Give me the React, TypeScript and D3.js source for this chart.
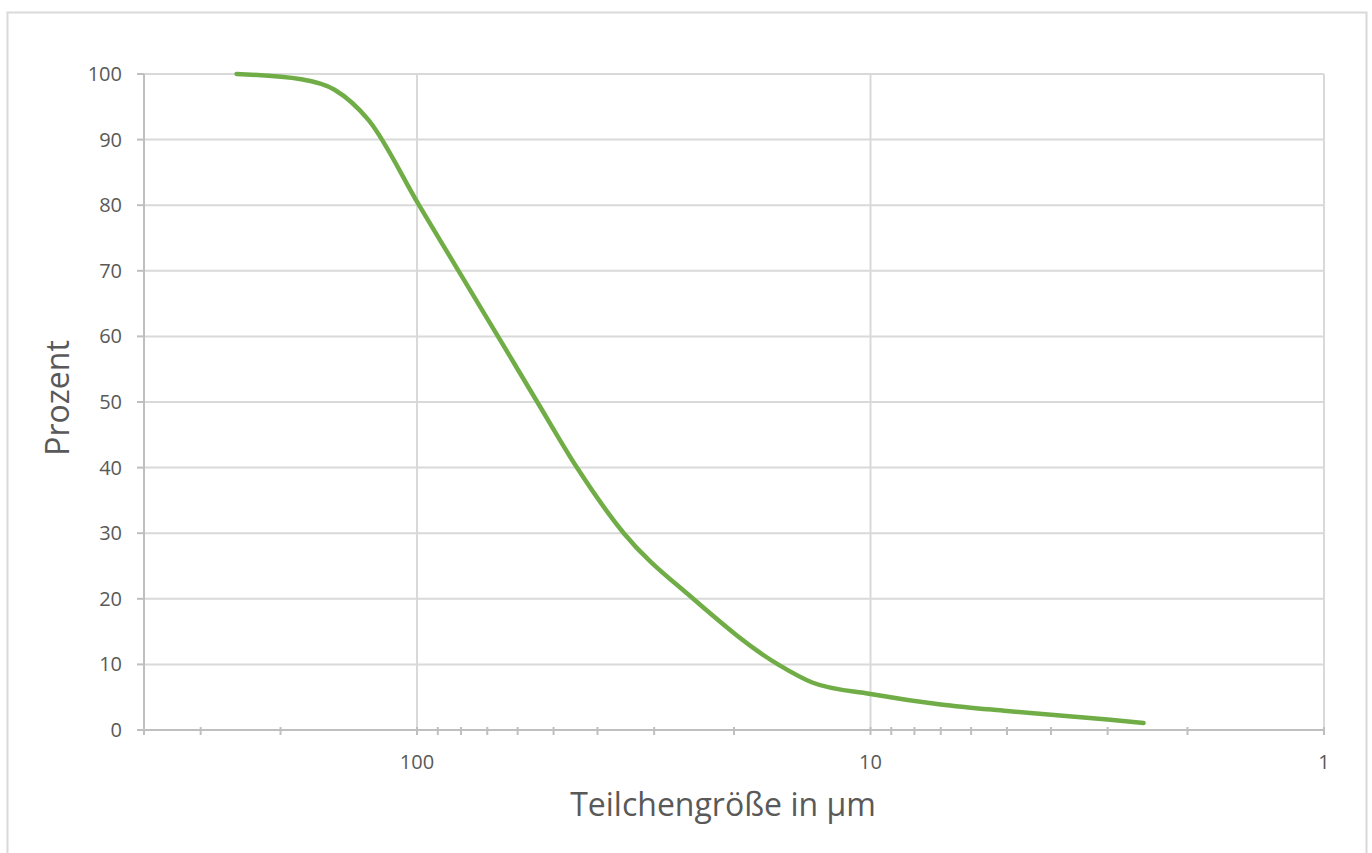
import React from "react";
import * as d3 from "d3";

const sizes = [250, 180, 152, 128, 99, 81, 66.3, 54.3, 44.4, 35, 24.6, 16, 13.4, 10, 7, 5, 3, 2.5];
const percents = [100, 99.2, 97.6, 93, 80, 70, 60, 50, 40, 30, 20, 10, 7.2, 5.5, 3.9, 2.9, 1.6, 1.07];
const yTicks = [0, 10, 20, 30, 40, 50, 60, 70, 80, 90, 100];
const xMajor = [100, 10, 1];
const xMinor = [400, 300, 200, 90, 80, 70, 60, 50, 40, 30, 20, 9, 8, 7, 6, 5, 4, 3, 2];
const xTitle = "Teilchengröße in µm";
const yTitle = "Prozent";

export default function App() {
  const W = 1372, H = 853;
  const L = 144, R = 1324, T = 74, B = 730;
  const x = d3.scaleLog().domain([400, 1]).range([L, R]);
  const y = d3.scaleLinear().domain([0, 100]).range([B, T]);
  const data = sizes.map((s, i) => [s, percents[i]] as [number, number]);
  const line = d3.line<[number, number]>().x(d => x(d[0])).y(d => y(d[1])).curve(d3.curveMonotoneX);
  const font = "'Open Sans', sans-serif";
  const grid = "#d9d9d9";
  const axis = "#bfbfbf";
  const txt = "#595959";
  return (
    <svg width={W} height={H} style={{ position: "absolute", left: 0, top: 0 }} fontFamily={font}>
      <rect x={0} y={0} width={W} height={H} fill="#fff" />
      <rect x={7.5} y={12.5} width={1359} height={900} fill="#fff" stroke={grid} strokeWidth={2} />
      {yTicks.filter(t => t > 0).map(t => (
        <line key={"hg" + t} x1={L} x2={R} y1={y(t)} y2={y(t)} stroke={grid} strokeWidth={2} />
      ))}
      {xMajor.map(t => (
        <line key={"vg" + t} x1={x(t)} x2={x(t)} y1={T} y2={B} stroke={grid} strokeWidth={2} />
      ))}
      <line x1={L} x2={L} y1={T} y2={B} stroke={axis} strokeWidth={2} />
      <line x1={L - 7} x2={R} y1={B} y2={B} stroke={axis} strokeWidth={2} />
      {yTicks.map(t => (
        <line key={"yt" + t} x1={L - 7} x2={L} y1={y(t)} y2={y(t)} stroke={axis} strokeWidth={2} />
      ))}
      {[...xMajor, ...xMinor].map(t => (
        <line key={"xt" + t} x1={x(t)} x2={x(t)} y1={B - 3} y2={B + 5} stroke={axis} strokeWidth={2} />
      ))}
      {yTicks.map(t => (
        <text key={"yl" + t} x={122} y={y(t)} dy="0.35em" textAnchor="end" fontSize={20} fill={txt}>{t}</text>
      ))}
      {xMajor.map(t => (
        <text key={"xl" + t} x={x(t)} y={762} dy="0.35em" textAnchor="middle" fontSize={20} fill={txt}>{t}</text>
      ))}
      <text x={723} y={805} dy="0.35em" textAnchor="middle" fontSize={32} fill={txt}>{xTitle}</text>
      <text transform={`translate(58,398) rotate(-90)`} dy="0.35em" textAnchor="middle" fontSize={32} fill={txt}>{yTitle}</text>
      <path d={line(data) || ""} fill="none" stroke="#70ad47" strokeWidth={4.5} strokeLinecap="round" />
    </svg>
  );
}
